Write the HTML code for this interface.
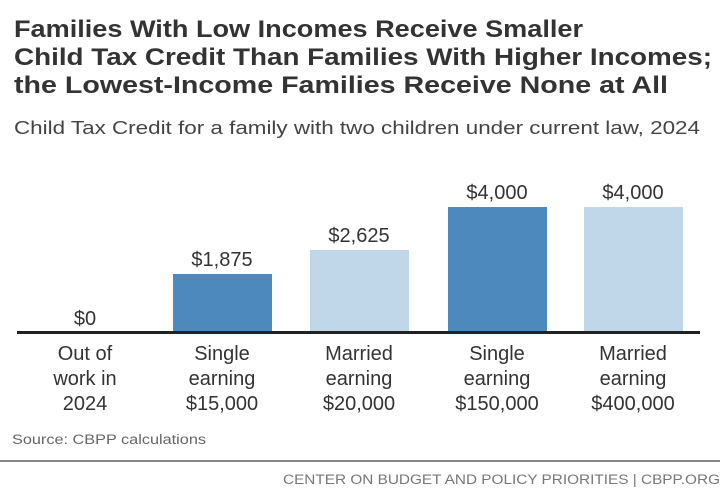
<!DOCTYPE html>
<html><head><meta charset="utf-8"><style>
body{margin:0;background:#fff;}
svg{display:block;font-family:"Liberation Sans",sans-serif;}
</style></head><body>
<svg width="720" height="498" viewBox="0 0 720 498">
<rect width="720" height="498" fill="#fff"/>
<g font-weight="bold" font-size="24" fill="#333" lengthAdjust="spacingAndGlyphs">
<text x="14" y="37" textLength="569" lengthAdjust="spacingAndGlyphs">Families With Low Incomes Receive Smaller</text>
<text x="14" y="65" textLength="698" lengthAdjust="spacingAndGlyphs">Child Tax Credit Than Families With Higher Incomes;</text>
<text x="14" y="93" textLength="654" lengthAdjust="spacingAndGlyphs">the Lowest-Income Families Receive None at All</text>
</g>
<text x="14" y="134" font-size="18" fill="#444" textLength="686" lengthAdjust="spacingAndGlyphs">Child Tax Credit for a family with two children under current law, 2024</text>
<rect x="173" y="274" width="99" height="58" fill="#4d89bd"/>
<rect x="310" y="250" width="99" height="82" fill="#c0d6e9"/>
<rect x="448" y="207" width="99" height="125" fill="#4d89bd"/>
<rect x="584" y="207" width="99" height="125" fill="#c0d6e9"/>
<rect x="17" y="331" width="683" height="3" fill="#222"/>
<g font-size="20" fill="#333" text-anchor="middle">
<text x="85" y="325">$0</text>
<text x="222" y="266">$1,875</text>
<text x="359" y="242">$2,625</text>
<text x="497" y="199">$4,000</text>
<text x="633" y="199">$4,000</text>
</g>
<g font-size="20" fill="#333" text-anchor="middle">
<text x="85" y="360">Out of</text><text x="85" y="385">work in</text><text x="85" y="410">2024</text>
<text x="222" y="360">Single</text><text x="222" y="385">earning</text><text x="222" y="410">$15,000</text>
<text x="359" y="360">Married</text><text x="359" y="385">earning</text><text x="359" y="410">$20,000</text>
<text x="497" y="360">Single</text><text x="497" y="385">earning</text><text x="497" y="410">$150,000</text>
<text x="633" y="360">Married</text><text x="633" y="385">earning</text><text x="633" y="410">$400,000</text>
</g>
<text x="12" y="444" font-size="13.5" fill="#666" textLength="194" lengthAdjust="spacingAndGlyphs">Source: CBPP calculations</text>
<rect x="0" y="460" width="720" height="2" fill="#888"/>
<text x="283" y="484" font-size="13.5" fill="#777" textLength="437" lengthAdjust="spacingAndGlyphs">CENTER ON BUDGET AND POLICY PRIORITIES | CBPP.ORG</text>
</svg>
</body></html>
